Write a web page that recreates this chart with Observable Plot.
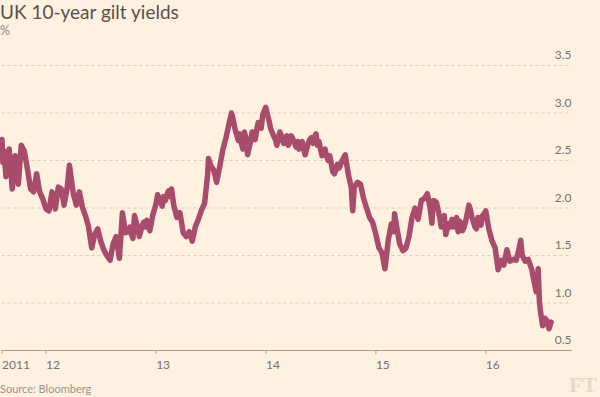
<!DOCTYPE html>
<html>
<head>
<meta charset="utf-8">
<script src="https://cdn.jsdelivr.net/npm/d3@7"></script>
<script src="https://cdn.jsdelivr.net/npm/@observablehq/plot@0.6"></script>
<style>
  html, body { margin: 0; padding: 0; background: #fff1e0; }
  #wrap { position: relative; width: 600px; height: 397px; background: #fff1e0; overflow: hidden; font-family: Lato, "Open Sans", sans-serif; }
  #title { position: absolute; left: 0; top: 1px; font-size: 19px; line-height: 22px; color: #57514c; white-space: nowrap; }
  #unit { position: absolute; left: 0; top: 24px; font-size: 12.5px; line-height: 14px; color: #8e8983; }
  #chart { position: absolute; left: 0; top: 40px; }
  #source { position: absolute; left: 0; top: 382px; font-size: 11px; line-height: 13px; color: #9a948d; }
  #ft { position: absolute; right: 3px; top: 374px; font-family: "Liberation Serif", serif; font-weight: bold; font-size: 22px; line-height: 22px; color: #e6d9cb; }
</style>
</head>
<body>
<div id="wrap">
  <div id="title">UK 10-year gilt yields</div>
  <div id="unit">%</div>
  <div id="chart"></div>
  <div id="source">Source: Bloomberg</div>
  <div id="ft">FT</div>
</div>
<script>
const dates = [
"2011-08-08","2011-08-11","2011-08-15","2011-08-21","2011-09-01","2011-09-11","2011-09-21","2011-10-01","2011-10-11","2011-10-21",
"2011-11-01","2011-11-11","2011-11-21","2011-12-01","2011-12-11","2011-12-21",
"2012-01-01","2012-01-11","2012-01-21","2012-02-01","2012-02-11","2012-02-21","2012-03-01","2012-03-11","2012-03-19",
"2012-04-01","2012-04-11","2012-04-21","2012-05-01","2012-05-11","2012-05-21","2012-06-01","2012-06-11","2012-06-21",
"2012-07-01","2012-07-11","2012-07-21","2012-08-01","2012-08-11","2012-08-21","2012-09-01","2012-09-11","2012-09-21",
"2012-10-01","2012-10-06","2012-10-11","2012-10-16","2012-10-21","2012-10-26","2012-11-01","2012-11-06","2012-11-11","2012-11-16","2012-11-21","2012-11-26",
"2012-12-01","2012-12-06","2012-12-11","2012-12-16","2012-12-21","2012-12-26",
"2013-01-01","2013-01-06","2013-01-11","2013-01-16","2013-01-21","2013-01-26","2013-02-01","2013-02-06","2013-02-11","2013-02-16","2013-02-21",
"2013-03-01","2013-03-11","2013-03-21",
"2013-04-01","2013-04-11","2013-04-21","2013-05-01","2013-05-11","2013-05-21","2013-06-01","2013-06-11","2013-06-21","2013-06-24",
"2013-07-01","2013-07-11","2013-07-21","2013-08-01","2013-08-11","2013-08-21","2013-09-01","2013-09-08","2013-09-11","2013-09-21",
"2013-10-01","2013-10-06","2013-10-11","2013-10-16","2013-10-21","2013-10-26","2013-11-01","2013-11-06","2013-11-11","2013-11-16","2013-11-21","2013-11-26",
"2013-12-01","2013-12-06","2013-12-11","2013-12-16","2013-12-21","2013-12-26","2013-12-31",
"2014-01-06","2014-01-11","2014-01-16","2014-01-21","2014-01-26","2014-02-01","2014-02-06","2014-02-11","2014-02-16","2014-02-21","2014-02-26",
"2014-03-01","2014-03-06","2014-03-11","2014-03-16","2014-03-21","2014-03-26",
"2014-04-01","2014-04-06","2014-04-11","2014-04-16","2014-04-21","2014-04-26","2014-05-01","2014-05-06","2014-05-11","2014-05-16","2014-05-21","2014-05-26",
"2014-06-01","2014-06-06","2014-06-11","2014-06-16","2014-06-21","2014-06-26",
"2014-07-01","2014-07-06","2014-07-11","2014-07-16","2014-07-21","2014-07-26","2014-08-01","2014-08-06","2014-08-11","2014-08-16","2014-08-21","2014-08-26",
"2014-09-01","2014-09-11","2014-09-21",
"2014-10-01","2014-10-11","2014-10-16","2014-10-21","2014-11-01","2014-11-11","2014-11-21","2014-12-01","2014-12-11","2014-12-21",
"2015-01-01","2015-01-11","2015-01-21","2015-01-31","2015-02-11","2015-02-21","2015-03-01","2015-03-04","2015-03-11","2015-03-21",
"2015-04-01","2015-04-11","2015-04-21","2015-05-01","2015-05-11","2015-05-21","2015-06-01","2015-06-11","2015-06-21",
"2015-07-01","2015-07-06","2015-07-11","2015-07-21","2015-08-01","2015-08-06","2015-08-11","2015-08-16","2015-08-21","2015-08-26",
"2015-09-01","2015-09-06","2015-09-11","2015-09-16","2015-09-21","2015-09-26",
"2015-10-01","2015-10-06","2015-10-11","2015-10-16","2015-10-21","2015-10-26","2015-11-01","2015-11-06","2015-11-11","2015-11-16","2015-11-21","2015-11-26",
"2015-12-01","2015-12-06","2015-12-11","2015-12-16","2015-12-21","2015-12-26",
"2016-01-01","2016-01-11","2016-01-21","2016-02-01","2016-02-11","2016-02-21","2016-03-01","2016-03-11","2016-03-21",
"2016-04-01","2016-04-11","2016-04-21","2016-04-26","2016-05-01","2016-05-11","2016-05-21","2016-06-01","2016-06-11","2016-06-16",
"2016-06-23","2016-06-27","2016-07-01","2016-07-08","2016-07-15","2016-07-21","2016-07-29","2016-08-05"
];
const yields = [
2.72,2.48,2.60,2.33,2.62,2.20,2.55,2.25,2.66,2.60,
2.40,2.20,2.17,2.36,2.17,2.10,
1.99,1.97,2.17,1.99,2.22,2.20,2.03,2.20,2.45,
2.15,2.03,2.17,2.01,1.92,1.81,1.58,1.72,1.78,
1.65,1.56,1.50,1.45,1.62,1.70,1.47,1.95,1.74,
1.75,1.80,1.72,1.68,1.92,1.86,1.78,1.70,1.76,1.82,1.85,1.80,
1.87,1.80,1.76,1.84,1.93,1.98,
2.05,2.14,2.10,2.06,2.02,2.12,2.08,2.14,2.18,2.12,2.20,
2.02,1.90,1.95,
1.74,1.70,1.75,1.65,1.80,1.88,1.98,2.05,2.35,2.52,
2.45,2.40,2.27,2.45,2.62,2.74,2.90,3.00,2.97,2.82,
2.71,2.78,2.68,2.62,2.80,2.74,2.56,2.64,2.70,2.80,2.78,2.72,
2.82,2.90,2.88,2.84,2.98,3.02,3.06,
2.98,2.92,2.84,2.80,2.76,2.72,2.66,2.74,2.80,2.76,2.70,
2.68,2.72,2.76,2.66,2.70,2.76,
2.72,2.68,2.64,2.70,2.62,2.66,2.70,2.62,2.56,2.62,2.68,2.72,
2.74,2.68,2.75,2.78,2.66,2.70,
2.62,2.55,2.58,2.62,2.55,2.50,2.55,2.46,2.38,2.36,2.40,2.46,
2.42,2.50,2.56,
2.36,2.22,1.97,2.22,2.27,2.25,2.10,2.00,1.90,1.85,
1.72,1.58,1.53,1.36,1.66,1.83,1.75,1.94,1.80,1.62,
1.55,1.58,1.70,1.90,2.00,1.88,2.08,2.10,2.15,
1.98,1.84,2.08,2.06,1.90,1.80,1.85,1.92,1.72,1.78,
1.84,1.80,1.88,1.80,1.85,1.90,
1.75,1.86,1.84,1.76,1.80,1.86,1.95,2.03,1.98,1.90,1.85,1.80,
1.78,1.90,1.88,1.82,1.92,1.94,
1.97,1.78,1.66,1.58,1.35,1.45,1.40,1.56,1.44,
1.46,1.45,1.58,1.66,1.50,1.44,1.46,1.36,1.20,1.12,
1.36,1.02,0.90,0.76,0.84,0.82,0.73,0.80
];
const xTickDates = ["2011-08-08","2012-01-01","2013-01-01","2014-01-01","2015-01-01","2016-01-01"];
const xTickLabels = ["2011","12","13","14","15","16"];
const yTicks = [0.5, 1.0, 1.5, 2.0, 2.5, 3.0, 3.5];
const xDomain = ["2011-08-08", "2016-10-15"];

const data = d3.sort(dates.map((d, i) => ({date: new Date(d), value: yields[i]})), d => d.date);
const tickDates = xTickDates.map(d => new Date(d));
const labelOf = d => xTickLabels[tickDates.findIndex(t => +t === +d)];

const chart = Plot.plot({
  width: 600,
  height: 335,
  marginTop: 25,
  marginBottom: 25,
  marginLeft: 1.5,
  marginRight: 28,
  style: {background: "transparent", fontFamily: "Lato, sans-serif"},
  x: {type: "utc", domain: xDomain.map(d => new Date(d)), axis: null},
  y: {domain: [0.5, 3.5], axis: null},
  marks: [
    Plot.ruleY(yTicks.filter(v => v > 0.5), {stroke: "#d9cdc1", strokeDasharray: "3,3", strokeWidth: 1}),
    Plot.ruleY([0.5], {stroke: "#a9a099", strokeWidth: 1}),
    Plot.axisX({ticks: tickDates, tickFormat: labelOf, tickSize: 4, tickPadding: 6, textAnchor: "start", fontSize: 12, stroke: "#a9a099", fill: "#76716c", label: null}),
    Plot.text(yTicks, {y: d => d, frameAnchor: "right", text: d => d.toFixed(1), textAnchor: "end", dy: -10, dx: -1, fontSize: 12, fill: "#76716c"}),
    Plot.line(data, {x: "date", y: "value", stroke: "#a94c6c", strokeWidth: 5.5, strokeLinejoin: "round", strokeLinecap: "round"})
  ]
});
document.getElementById("chart").appendChild(chart);
</script>
</body>
</html>
